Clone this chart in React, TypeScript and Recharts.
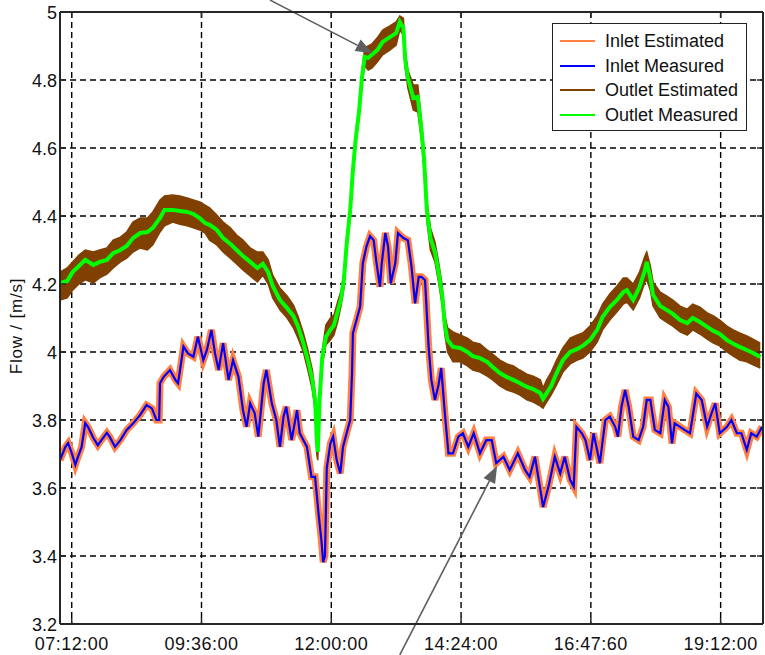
import React from 'react';
import {
  ComposedChart,
  Line,
  Area,
  XAxis,
  YAxis,
  CartesianGrid,
  ReferenceLine,
  Legend,
} from 'recharts';

const FONT = '"Liberation Sans", Arial, Helvetica, sans-serif';
const AXIS_COLOR = '#262626';

// Time of day in minutes since midnight
const inletTime = [
  419, 425, 428, 432, 436, 439, 443, 447, 450, 456, 461, 465, 471, 474, 480, 486, 493, 500, 508, 515,
  521, 526, 529, 530, 534, 541, 547, 550, 556, 561, 567, 572, 578, 582, 587, 591, 595, 600, 606, 611,
  617, 622, 626, 630, 635, 639, 645, 648, 654, 659, 663, 667, 670, 676, 682, 685, 693, 698, 702, 706,
  709, 711, 713, 715, 719, 722, 726, 730, 733, 737, 741, 743, 744, 748, 752, 755, 759, 763, 767, 770,
  774, 776, 780, 783, 786, 791, 794, 800, 805, 809, 813, 817, 820, 824, 828, 831, 835, 839, 842, 846,
  850, 855, 861, 866, 872, 878, 885, 892, 898, 903, 911, 918, 927, 935, 940, 946, 952, 955, 961, 968,
  974, 979, 985, 989, 992, 998, 1002, 1007, 1011, 1018, 1024, 1029, 1035, 1038, 1042, 1046, 1050, 1055,
  1061, 1066, 1070, 1074, 1079, 1085, 1090, 1094, 1098, 1101, 1107, 1112, 1118, 1125, 1131, 1137, 1142,
  1146, 1151, 1159, 1164, 1170, 1175, 1181, 1186, 1192, 1198,
];

// Inlet flow; the estimate tracks the measurement closely, so both traces share it
const inletFlow = [
  3.682, 3.721, 3.732, 3.703, 3.668, 3.692, 3.721, 3.791, 3.78, 3.747, 3.726, 3.741, 3.762, 3.751, 3.721,
  3.741, 3.771, 3.79, 3.815, 3.844, 3.834, 3.8, 3.8, 3.908, 3.927, 3.947, 3.918, 3.908, 4.016, 3.996,
  3.986, 4.045, 3.976, 4.006, 4.065, 3.996, 3.947, 4.026, 3.918, 3.976, 3.927, 3.829, 3.78, 3.849, 3.82,
  3.751, 3.908, 3.947, 3.849, 3.8, 3.721, 3.81, 3.839, 3.741, 3.829, 3.761, 3.721, 3.633, 3.633, 3.521,
  3.447, 3.382, 3.4, 3.659, 3.731, 3.751, 3.682, 3.643, 3.721, 3.761, 3.8, 3.937, 4.055, 4.094, 4.133,
  4.261, 4.31, 4.341, 4.329, 4.265, 4.192, 4.261, 4.35, 4.31, 4.202, 4.261, 4.35, 4.335, 4.329, 4.251,
  4.143, 4.221, 4.221, 4.212, 4.016, 3.918, 3.859, 3.903, 3.953, 3.82, 3.702, 3.702, 3.751, 3.761, 3.721,
  3.761, 3.702, 3.741, 3.741, 3.673, 3.692, 3.653, 3.702, 3.653, 3.633, 3.692, 3.594, 3.544, 3.604, 3.692,
  3.643, 3.692, 3.624, 3.604, 3.78, 3.761, 3.741, 3.682, 3.761, 3.673, 3.8, 3.81, 3.78, 3.751, 3.839,
  3.888, 3.839, 3.751, 3.741, 3.78, 3.859, 3.859, 3.771, 3.761, 3.859, 3.839, 3.731, 3.79, 3.78, 3.771,
  3.761, 3.878, 3.859, 3.78, 3.82, 3.849, 3.761, 3.78, 3.8, 3.761, 3.761, 3.712, 3.761, 3.751, 3.78,
];

const outletTime = [
  419, 427, 433, 440, 447, 456, 463, 471, 478, 486, 493, 500, 508, 516, 522, 530, 535, 544, 552, 560,
  567, 574, 580, 585, 593, 600, 608, 615, 622, 630, 638, 644, 650, 655, 663, 671, 678, 683, 689, 694,
  699, 702, 704, 705, 707, 710, 714, 719, 723, 727, 731, 734, 737, 741, 744, 747, 751, 754, 757, 761,
  765, 771, 777, 785, 792, 796, 800, 802, 805, 811, 816, 820, 823, 826, 830, 835, 839, 843, 846, 849,
  855, 863, 871, 877, 885, 893, 899, 907, 915, 922, 929, 937, 944, 952, 955, 959, 964, 970, 977, 985,
  993, 999, 1007, 1015, 1021, 1029, 1037, 1044, 1048, 1055, 1062, 1068, 1070, 1074, 1077, 1085, 1092,
  1099, 1107, 1115, 1121, 1129, 1137, 1144, 1151, 1159, 1166, 1173, 1181, 1188, 1196,
];

const outletMeasured = [
  4.203, 4.209, 4.235, 4.253, 4.271, 4.256, 4.265, 4.271, 4.291, 4.3, 4.312, 4.335, 4.35, 4.353, 4.365,
  4.394, 4.418, 4.418, 4.415, 4.412, 4.406, 4.394, 4.379, 4.374, 4.359, 4.335, 4.318, 4.3, 4.282, 4.265,
  4.247, 4.259, 4.235, 4.194, 4.153, 4.129, 4.106, 4.076, 4.026, 3.976, 3.918, 3.859, 3.741, 3.706, 3.859,
  3.985, 4.044, 4.065, 4.079, 4.118, 4.159, 4.212, 4.315, 4.418, 4.535, 4.624, 4.712, 4.806, 4.868, 4.865,
  4.874, 4.888, 4.912, 4.926, 4.938, 4.971, 4.953, 4.859, 4.806, 4.747, 4.75, 4.653, 4.565, 4.418, 4.335,
  4.294, 4.235, 4.168, 4.079, 4.035, 4.015, 4.012, 4.0, 3.988, 3.982, 3.971, 3.956, 3.938, 3.926, 3.918,
  3.909, 3.897, 3.891, 3.879, 3.862, 3.879, 3.9, 3.938, 3.976, 4.0, 4.009, 4.018, 4.035, 4.065, 4.103,
  4.132, 4.153, 4.176, 4.182, 4.153, 4.191, 4.241, 4.265, 4.218, 4.168, 4.135, 4.124, 4.112, 4.094, 4.085,
  4.1, 4.088, 4.074, 4.062, 4.053, 4.035, 4.024, 4.015, 4.006, 3.997, 3.985,
];

// Upper and lower extent of the noisy outlet estimate
const outletEstHigh = [
  4.235, 4.247, 4.265, 4.285, 4.3, 4.294, 4.3, 4.306, 4.329, 4.338, 4.353, 4.382, 4.394, 4.394, 4.412,
  4.447, 4.459, 4.462, 4.459, 4.453, 4.447, 4.441, 4.432, 4.424, 4.403, 4.382, 4.365, 4.344, 4.329, 4.306,
  4.294, 4.294, 4.271, 4.226, 4.188, 4.165, 4.138, 4.106, 4.056, 4.006, 3.947, 3.882, 3.785, 3.726, 3.874,
  4.006, 4.079, 4.1, 4.109, 4.147, 4.182, 4.235, 4.335, 4.435, 4.55, 4.641, 4.729, 4.824, 4.894, 4.9,
  4.906, 4.924, 4.947, 4.959, 4.971, 4.988, 4.982, 4.888, 4.829, 4.785, 4.785, 4.682, 4.594, 4.447, 4.365,
  4.324, 4.265, 4.197, 4.109, 4.071, 4.059, 4.05, 4.041, 4.029, 4.024, 4.006, 3.994, 3.976, 3.965, 3.959,
  3.947, 3.935, 3.929, 3.918, 3.894, 3.918, 3.941, 3.976, 4.012, 4.041, 4.05, 4.056, 4.076, 4.106, 4.141,
  4.171, 4.194, 4.218, 4.218, 4.2, 4.235, 4.282, 4.294, 4.253, 4.206, 4.176, 4.165, 4.153, 4.135, 4.126,
  4.141, 4.132, 4.115, 4.106, 4.094, 4.076, 4.065, 4.056, 4.047, 4.038, 4.026,
];

const outletEstLow = [
  4.153, 4.159, 4.182, 4.2, 4.212, 4.203, 4.218, 4.229, 4.247, 4.265, 4.276, 4.294, 4.306, 4.3, 4.315,
  4.353, 4.371, 4.382, 4.376, 4.371, 4.365, 4.359, 4.35, 4.329, 4.315, 4.294, 4.276, 4.259, 4.241, 4.224,
  4.206, 4.226, 4.2, 4.159, 4.124, 4.1, 4.071, 4.041, 4.0, 3.947, 3.888, 3.829, 3.697, 3.682, 3.844,
  3.962, 4.021, 4.035, 4.05, 4.088, 4.138, 4.188, 4.294, 4.4, 4.518, 4.606, 4.694, 4.788, 4.841, 4.829,
  4.835, 4.853, 4.874, 4.888, 4.903, 4.947, 4.932, 4.835, 4.776, 4.712, 4.706, 4.624, 4.535, 4.388, 4.3,
  4.265, 4.206, 4.138, 4.05, 4.0, 3.971, 3.971, 3.959, 3.947, 3.941, 3.929, 3.918, 3.9, 3.888, 3.882,
  3.874, 3.859, 3.853, 3.841, 3.835, 3.853, 3.874, 3.903, 3.941, 3.965, 3.976, 3.982, 4.0, 4.029, 4.065,
  4.094, 4.118, 4.141, 4.147, 4.124, 4.159, 4.206, 4.212, 4.182, 4.135, 4.1, 4.088, 4.076, 4.059, 4.05,
  4.065, 4.053, 4.038, 4.026, 4.018, 4.0, 3.988, 3.976, 3.971, 3.962, 3.953,
];

const timeTicks = [432, 576, 720, 864, 1008, 1152];
const timeTickLabels = ['07:12:00', '09:36:00', '12:00:00', '14:24:00', '16:47:60', '19:12:00'];
const flowTicks = [3.2, 3.4, 3.6, 3.8, 4, 4.2, 4.4, 4.6, 4.8, 5];
const flowTickLabels = ['3.2', '3.4', '3.6', '3.8', '4', '4.2', '4.4', '4.6', '4.8', '5'];

const seriesNames = ['Inlet Estimated', 'Inlet Measured', 'Outlet Estimated', 'Outlet Measured'];
const seriesColors = ['#FF8040', '#0000FF', '#804000', '#00FF00'];

// Annotation arrows as [time, flow] pairs: tail then tip
const peakArrow = [[652, 5.035], [766, 4.879]];
const dipArrow = [[796, 3.109], [904, 3.665]];

const inletData = inletTime.map((t, i) => ({ t, flow: inletFlow[i] }));
const outletData = outletTime.map((t, i) => ({
  t,
  measured: outletMeasured[i],
  band: [outletEstLow[i], outletEstHigh[i]],
}));

const textStyle = { fontFamily: FONT, fontSize: 18, fill: '#111' };

const BottomTick = (props: any) => {
  const { x, y, payload } = props;
  const idx = timeTicks.indexOf(payload.value);
  return (
    <g>
      <line x1={x} y1={y} x2={x} y2={y - 6} stroke={AXIS_COLOR} strokeWidth={1.5} />
      <text x={x} y={y + 26} textAnchor="middle" style={{ ...textStyle, letterSpacing: 0.5 }}>
        {idx >= 0 ? timeTickLabels[idx] : ''}
      </text>
    </g>
  );
};

const TopTick = (props: any) => {
  const { x, y } = props;
  return <line x1={x} y1={y} x2={x} y2={y + 6} stroke={AXIS_COLOR} strokeWidth={1.5} />;
};

const LeftTick = (props: any) => {
  const { x, y, payload } = props;
  const idx = flowTicks.findIndex((v) => Math.abs(v - payload.value) < 1e-6);
  return (
    <g>
      <line x1={x} y1={y} x2={x + 6} y2={y} stroke={AXIS_COLOR} strokeWidth={1.5} />
      <text x={x - 3} y={y + 6.5} textAnchor="end" style={textStyle}>
        {idx >= 0 ? flowTickLabels[idx] : ''}
      </text>
    </g>
  );
};

const RightTick = (props: any) => {
  const { x, y } = props;
  return <line x1={x} y1={y} x2={x - 6} y2={y} stroke={AXIS_COLOR} strokeWidth={1.5} />;
};

const FlowLabel = (props: any) => {
  const vb = props && props.viewBox ? props.viewBox : { x: 0, y: 12, width: 60, height: 612 };
  const cx = vb.x + 16;
  const cy = vb.y + vb.height / 2 + 8;
  return (
    <text
      x={cx}
      y={cy}
      dy="0.35em"
      textAnchor="middle"
      transform={`rotate(-90, ${cx}, ${cy})`}
      style={{ ...textStyle, fontSize: 17, letterSpacing: 0.8 }}
    >
      Flow / [m/s]
    </text>
  );
};

const Arrow = (props: any) => {
  const { x1, y1, x2, y2 } = props;
  const dx = x2 - x1;
  const dy = y2 - y1;
  const len = Math.hypot(dx, dy) || 1;
  const ux = dx / len;
  const uy = dy / len;
  const headLen = 17;
  const headHalf = 6.5;
  const bx = x2 - ux * headLen;
  const by = y2 - uy * headLen;
  const pts = `${x2},${y2} ${bx - uy * headHalf},${by + ux * headHalf} ${bx + uy * headHalf},${by - ux * headHalf}`;
  return (
    <g>
      <line x1={x1} y1={y1} x2={bx} y2={by} stroke="#5f5f5f" strokeWidth={1.6} />
      <polygon points={pts} fill="#5f5f5f" />
    </g>
  );
};

const LegendBox = () => (
  <div
    style={{
      width: 195,
      height: 108,
      boxSizing: 'border-box',
      border: '1.5px solid #222',
      background: '#fff',
      position: 'relative',
      fontFamily: FONT,
      fontSize: 18,
      color: '#111',
    }}
  >
    {seriesNames.map((name, i) => (
      <div
        key={name}
        style={{ position: 'absolute', left: 0, top: 5 + i * 24.5, height: 24, width: '100%' }}
      >
        <svg width={50} height={24} style={{ position: 'absolute', left: 0, top: 0 }}>
          <line x1={7} x2={42} y1={12} y2={12} stroke={seriesColors[i]} strokeWidth={2} />
        </svg>
        <span
          style={{
            position: 'absolute',
            left: 52,
            top: 0,
            lineHeight: '24px',
            whiteSpace: 'nowrap',
          }}
        >
          {name}
        </span>
      </div>
    ))}
  </div>
);

export default function App() {
  return (
    <div style={{ position: 'absolute', left: 0, top: 0, width: 765, height: 655, background: '#fff' }}>
      <ComposedChart
        width={765}
        height={655}
        margin={{ top: 11, right: 1, bottom: 1, left: 0 }}
        style={{ fontFamily: FONT }}
      >
        <CartesianGrid stroke="#000" strokeDasharray="6 4" strokeWidth={1.4} />
        <XAxis
          type="number"
          dataKey="t"
          domain={[419, 1199]}
          ticks={timeTicks}
          allowDataOverflow
          interval={0}
          height={30}
          tickSize={0}
          tickMargin={0}
          tickLine={false}
          tick={BottomTick}
          axisLine={{ stroke: AXIS_COLOR, strokeWidth: 2 }}
        />
        <XAxis
          xAxisId="top"
          orientation="top"
          type="number"
          dataKey="t"
          domain={[419, 1199]}
          ticks={timeTicks}
          allowDataOverflow
          interval={0}
          height={1}
          tickSize={0}
          tickMargin={0}
          tickLine={false}
          tick={TopTick}
          axisLine={{ stroke: AXIS_COLOR, strokeWidth: 2 }}
        />
        <YAxis
          type="number"
          domain={[3.2, 5]}
          ticks={flowTicks}
          allowDataOverflow
          interval={0}
          width={60}
          tickSize={0}
          tickMargin={0}
          tickLine={false}
          tick={LeftTick}
          label={FlowLabel}
          axisLine={{ stroke: AXIS_COLOR, strokeWidth: 2 }}
        />
        <YAxis
          yAxisId="right"
          orientation="right"
          type="number"
          domain={[3.2, 5]}
          ticks={flowTicks}
          allowDataOverflow
          interval={0}
          width={1}
          tickSize={0}
          tickMargin={0}
          tickLine={false}
          tick={RightTick}
          axisLine={{ stroke: AXIS_COLOR, strokeWidth: 2 }}
        />
        <Line
          data={inletData}
          dataKey="flow"
          name={seriesNames[0]}
          type="linear"
          stroke={seriesColors[0]}
          strokeWidth={7}
          strokeLinejoin="miter"
          dot={false}
          activeDot={false}
          isAnimationActive={false}
        />
        <Line
          data={inletData}
          dataKey="flow"
          name={seriesNames[1]}
          type="linear"
          stroke={seriesColors[1]}
          strokeWidth={2.2}
          dot={false}
          activeDot={false}
          isAnimationActive={false}
        />
        <Area
          data={outletData}
          dataKey="band"
          name={seriesNames[2]}
          type="linear"
          stroke={seriesColors[2]}
          strokeWidth={1.5}
          fill={seriesColors[2]}
          fillOpacity={1}
          dot={false}
          activeDot={false}
          isAnimationActive={false}
        />
        <Line
          data={outletData}
          dataKey="measured"
          name={seriesNames[3]}
          type="linear"
          stroke={seriesColors[3]}
          strokeWidth={4}
          dot={false}
          activeDot={false}
          isAnimationActive={false}
        />
        <ReferenceLine
          segment={[
            { x: peakArrow[0][0], y: peakArrow[0][1] },
            { x: peakArrow[1][0], y: peakArrow[1][1] },
          ]}
          ifOverflow="visible"
          shape={Arrow}
        />
        <ReferenceLine
          segment={[
            { x: dipArrow[0][0], y: dipArrow[0][1] },
            { x: dipArrow[1][0], y: dipArrow[1][1] },
          ]}
          ifOverflow="visible"
          shape={Arrow}
        />
        <Legend
          layout="vertical"
          align="center"
          verticalAlign="middle"
          content={LegendBox}
          wrapperStyle={{ left: 552, top: 23, width: 195, height: 108 }}
        />
      </ComposedChart>
    </div>
  );
}
